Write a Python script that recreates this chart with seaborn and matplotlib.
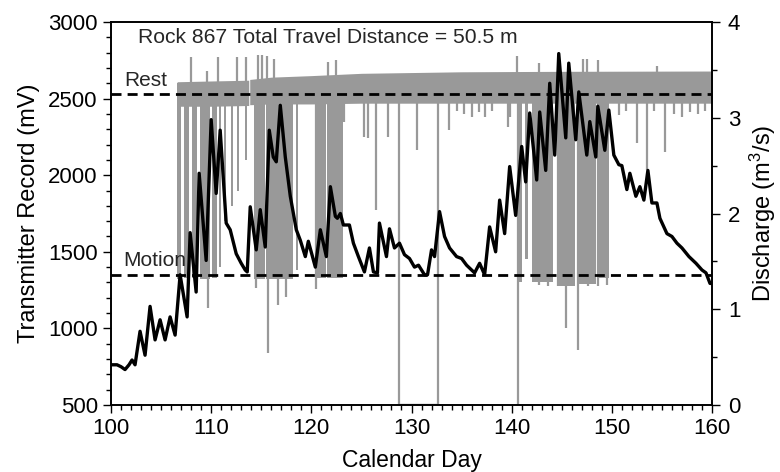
import matplotlib
matplotlib.use("Agg")
import matplotlib.pyplot as plt
import seaborn as sns
import pandas as pd
from matplotlib.ticker import MultipleLocator

# ---------------- data ----------------
# Discharge (m^3/s) vs calendar day (black line, right axis)
q_day = [100.0, 100.6, 101.0, 101.4, 101.8, 102.1, 102.4, 102.9, 103.4, 103.9,
         104.4, 104.9, 105.4, 105.9, 106.4, 106.9, 107.6, 107.9, 108.5, 108.8,
         109.5, 110.0, 110.5, 110.9, 111.5, 111.9, 112.5, 113.0, 113.4, 113.6,
         113.9, 114.5, 114.9, 115.4, 115.8, 116.2, 116.5, 116.9, 117.4, 117.9,
         118.5, 118.9, 119.4, 119.7, 120.4, 120.9, 121.5, 121.9, 122.4, 122.6,
         122.9, 123.2, 123.8, 124.2, 124.7, 125.3, 125.8, 126.2, 126.6, 126.8,
         127.5, 127.8, 128.3, 128.8, 129.3, 129.8, 130.3, 130.7, 131.3, 131.6,
         132.0, 132.3, 132.8, 133.3, 133.8, 134.5, 135.0, 135.5, 136.3, 136.8,
         137.3, 137.8, 138.4, 138.8, 139.3, 139.8, 140.4, 141.0, 141.4, 141.8,
         142.5, 142.8, 143.4, 143.8, 144.3, 144.7, 145.4, 145.7, 146.4, 146.7,
         147.5, 147.8, 148.4, 148.6, 149.3, 149.7, 150.2, 150.7, 151.0, 151.5,
         151.8, 152.4, 152.8, 153.2, 153.6, 154.0, 154.5, 154.8, 155.5, 156.0,
         156.5, 157.0, 157.7, 158.4, 159.0, 159.4, 159.8, 160.0]
q_val = [0.42, 0.42, 0.40, 0.37, 0.42, 0.47, 0.42, 0.77, 0.52, 1.03,
         0.68, 0.89, 0.68, 0.92, 0.73, 1.36, 0.92, 1.80, 1.18, 2.42,
         1.51, 2.98, 2.21, 2.87, 1.90, 1.83, 1.58, 1.48, 1.41, 1.39,
         2.07, 1.62, 2.04, 1.65, 2.87, 2.59, 2.54, 3.13, 2.59, 2.18,
         1.83, 1.72, 1.55, 1.71, 1.44, 1.83, 1.55, 2.28, 1.97, 1.95,
         2.00, 1.88, 1.88, 1.69, 1.55, 1.39, 1.64, 1.39, 1.38, 1.90,
         1.55, 1.84, 1.64, 1.69, 1.57, 1.53, 1.44, 1.46, 1.36, 1.36,
         1.62, 1.55, 2.02, 1.76, 1.64, 1.55, 1.53, 1.46, 1.38, 1.48,
         1.36, 1.86, 1.60, 2.14, 1.79, 2.49, 1.98, 2.70, 2.33, 3.05,
         2.35, 3.06, 2.45, 3.36, 2.61, 3.67, 2.79, 3.57, 2.77, 3.27,
         2.61, 2.96, 2.59, 3.12, 2.66, 3.08, 2.61, 2.51, 2.50, 2.25,
         2.42, 2.18, 2.28, 2.14, 2.45, 2.11, 2.11, 1.95, 1.79, 1.76,
         1.69, 1.64, 1.55, 1.48, 1.41, 1.38, 1.27, 1.27]

# Transmitter record (mV): resting band (two pieces, short gap at day 113.8)
band1_day = [106.6, 110.0, 113.75]
band1_top = [2610, 2615, 2620]
band1_bot = [2450, 2450, 2455]
band2_day = [113.85, 116.0, 120.0, 125.0, 135.0, 145.0, 160.0]
band2_top = [2625, 2640, 2650, 2665, 2675, 2678, 2680]
band2_bot = [2460, 2465, 2465, 2470, 2470, 2470, 2470]

# Motion periods (dense oscillation blocks): start day, end day, lowest mV
block_start = [106.6, 107.3, 108.05, 108.9, 110.05, 110.8, 111.3, 112.0, 112.6, 113.4,
               114.3, 115.5, 118.5, 120.4, 121.6,
               140.5, 141.3, 142.0, 144.5, 146.5, 147.6, 148.5]
block_end = [107.0, 107.75, 108.6, 109.9, 110.6, 111.0, 111.5, 112.15, 112.75, 113.55,
             115.35, 118.2, 118.7, 121.45, 123.2,
             141.0, 141.6, 144.1, 146.3, 147.5, 148.4, 149.7]
block_low = [1320, 1330, 1330, 1320, 1330, 1400, 1700, 1800, 1900, 2100,
             1320, 1320, 1380, 1330, 1330,
             1300, 1450, 1300, 1280, 1290, 1290, 1330]

# Downward excursions: day, lowest mV
dn_day = [109.65, 114.5, 115.7, 116.7, 117.5, 120.5, 123.3, 125.3, 125.7, 126.5,
          127.7, 128.8, 130.5, 132.6, 133.7, 134.5, 135.2, 136.0, 136.7, 137.3,
          138.0, 139.6, 139.8, 140.65, 142.7, 143.6, 144.6, 145.4, 146.6, 147.6,
          148.6, 149.5, 150.7, 151.4, 152.5, 153.5, 154.2, 155.3, 156.2, 157.0,
          157.8, 158.6, 159.3]
dn_low = [1135, 1265, 840, 1150, 1205, 1260, 2350, 2250, 2240, 1773,
          2250, 500, 2165, 500, 2295, 2420, 2400, 2380, 2410, 2380,
          2420, 2315, 2380, 500, 1283, 1280, 1275, 1003, 860, 1280,
          1280, 1285, 2390, 2420, 2210, 2035, 2420, 2150, 2400, 2380,
          2410, 2400, 2420]

# Upward excursions: day, highest mV
up_day = [108.0, 109.6, 110.7, 112.6, 113.5, 114.7, 115.1, 115.6, 116.3, 121.7,
          122.5, 140.5, 142.7, 147.1, 147.5, 148.6, 154.5]
up_high = [2770, 2680, 2770, 2770, 2770, 2785, 2785, 2775, 2760, 2740,
           2750, 2778, 2730, 2760, 2760, 2750, 2710]

# Signal lost (record at floor)
lost_day = [128.8, 132.6]
lost_val = [500, 500]

rest_level = 2530
motion_level = 1350

# ---------------- style ----------------
sns.set_theme(style="ticks")
plt.rcParams["font.family"] = ["Liberation Sans", "DejaVu Sans"]
plt.rcParams["mathtext.fontset"] = "custom"
plt.rcParams["mathtext.rm"] = "Liberation Sans"
plt.rcParams["mathtext.it"] = "Liberation Sans:italic"

GRAY = "#999999"

fig = plt.figure(figsize=(7.8, 4.72), dpi=100)
ax = fig.add_axes([111 / 780, 1 - 405 / 472, (712 - 111) / 780, (405 - 22) / 472])
ax2 = ax.twinx()

# ---- transmitter record (gray) ----
ax.fill_between(band1_day, band1_bot, band1_top, color=GRAY, lw=0, zorder=2)
ax.fill_between(band2_day, band2_bot, band2_top, color=GRAY, lw=0, zorder=2)
for s, e, lo in zip(block_start, block_end, block_low):
    ax.fill_between([s, e], [lo, lo], [2600, 2600], color=GRAY, lw=0, zorder=2)
ax.vlines(dn_day, dn_low, 2480, color=GRAY, lw=1.6, zorder=2)
ax.vlines(up_day, 2600, up_high, color=GRAY, lw=1.6, zorder=2)
ax.plot(lost_day, lost_val, color=GRAY, lw=2.5, zorder=2)

# dashed thresholds
ax.axhline(rest_level, color="black", lw=2, ls=(0, (3.6, 2.2)), zorder=4)
ax.axhline(motion_level, color="black", lw=2, ls=(0, (3.6, 2.2)), zorder=4)

ax.text(101.3, 2585, "Rest", fontsize=15, ha="left", va="baseline")
ax.text(101.2, 1410, "Motion", fontsize=15, ha="left", va="baseline")
ax.text(102.7, 2862, "Rock 867 Total Travel Distance = 50.5 m", fontsize=15.2,
        ha="left", va="baseline")

# ---- discharge (black) ----
df = pd.DataFrame({"day": q_day, "Q": q_val})
sns.lineplot(data=df, x="day", y="Q", ax=ax2, color="black", lw=2.4, estimator=None,
             sort=False)

# ---- axes ----
ax.set_xlim(100, 160)
ax.set_ylim(500, 3000)
ax2.set_ylim(0, 4)

ax.xaxis.set_major_locator(MultipleLocator(10))
ax.xaxis.set_minor_locator(MultipleLocator(1))
ax.yaxis.set_major_locator(MultipleLocator(500))
ax.yaxis.set_minor_locator(MultipleLocator(100))
ax2.yaxis.set_major_locator(MultipleLocator(1))
ax2.yaxis.set_minor_locator(MultipleLocator(0.5))

for a in (ax, ax2):
    a.tick_params(which="major", length=5.5, width=1, direction="out",
                  labelsize=16, pad=4, color="black", labelcolor="black")
    a.tick_params(which="minor", length=3.5, width=1, direction="out", color="black")
    for sp in a.spines.values():
        sp.set_color("black")
        sp.set_linewidth(1.2)
        sp.set_zorder(5)
ax.tick_params(axis="x", which="both", top=False)
ax2.tick_params(axis="y", which="both", left=False, right=True, pad=6)

ax.set_xlabel("Calendar Day", fontsize=16.5, labelpad=7, color="black")
ax.set_ylabel("Transmitter Record (mV)", fontsize=17, labelpad=6, color="black")
ax2.set_ylabel("Discharge (m$^3$/s)", fontsize=17, labelpad=5, color="black")
ax2.set_xlabel("")
ax.grid(False)
ax2.grid(False)

fig.savefig("out.png", dpi=100)
